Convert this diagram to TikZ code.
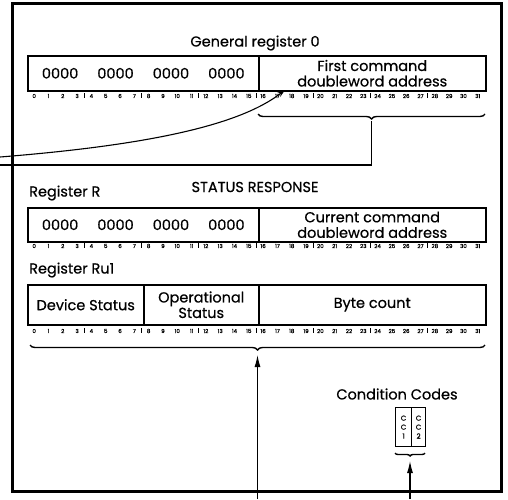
\documentclass[tikz,border=0pt]{standalone}
\usepackage{fontspec}
\setmainfont{Poppins}[FakeBold=0.6]
\usetikzlibrary{arrows.meta, positioning, decorations.pathreplacing, calc}
\tikzset{
  field/.style   = {draw, line width=1.5pt, anchor=north west, inner sep=0pt,
                    align=center, font=\fontsize{14.5}{15.5}\selectfont},
  title/.style   = {inner sep=0pt, font=\fontsize{14.5}{15.5}\selectfont},
  bitnum/.style  = {inner sep=0pt, font=\fontsize{5.5}{5.5}\selectfont},
  ccbit/.style   = {draw, line width=1.2pt, anchor=north west, inner sep=0pt,
                    align=center, minimum height=39pt, font=\fontsize{7}{9}\selectfont},
  brace/.style   = {decorate, decoration={brace, amplitude=5pt}, line width=1.4pt},
  arrow/.style   = {-{Latex[length=12pt, width=6pt]}, line width=1.1pt},
  thin/.style    = {line width=1.1pt},
  frame/.style   = {line width=3pt},
}

\begin{document}
\begin{tikzpicture}[x=1pt, y=-1pt]
  \useasboundingbox (0,0) rectangle (508,499);
  \draw[frame] (12,3) rectangle (501,491);

  % general register 0
  \node[title] (g0title) at (255,43) {General register 0};
  \node[field, minimum width=231pt, minimum height=35pt] (g0hi) at (27,55)
    {0000\hspace{19pt}0000\hspace{19pt}0000\hspace{19pt}0000};
  \node[field, minimum width=227pt, minimum height=35pt] (g0lo) at (258,55)
    {First command\\doubleword address};

  % status response
  \node[title] (sttitle) at (255,187) {STATUS RESPONSE};
  \node[title, anchor=west] (rtitle) at (29,193) {Register R};
  \node[field, minimum width=231pt, minimum height=34pt] (rhi) at (27,207)
    {0000\hspace{19pt}0000\hspace{19pt}0000\hspace{19pt}0000};
  \node[field, minimum width=227pt, minimum height=34pt] (rlo) at (258,207)
    {Current command\\doubleword address};

  \node[title, anchor=west] (utitle) at (29,270) {Register Ru1};
  \node[field, minimum width=116pt, minimum height=40pt] (udev) at (27,284) {Device Status};
  \node[field, minimum width=115pt, minimum height=40pt] (uop) at (143,284) {Operational\\Status};
  \node[field, minimum width=227pt, minimum height=40pt] (ubyte) at (258,284) {Byte count};

  % bit positions
  \foreach \r/\y in {g/96, r/246, u/331} {
    \foreach \i in {0,...,31}
      \node[bitnum] (\r bit\i) at ({27+14.31*(\i+0.5)},\y) {\i};
    \foreach \k in {4,8,...,28}
      \draw[line width=0.6pt] ({27+14.31*\k},\y-3) -- ({27+14.31*\k},\y+2);
  }

  % address brace and its lead
  \coordinate (br0w) at (258,114);
  \coordinate (br0e) at (485,114);
  \coordinate (br0tip) at (371.5,121);
  \coordinate (lnin) at (0,165);
  \draw[brace] (br0e) -- (br0w);
  \draw[thin] (lnin) -| (br0tip);

  \coordinate (cvin) at (0,157);
  \coordinate (cvtip) at (285,90);
  \draw[-{Stealth[length=8pt, width=5pt]}, thin]
    (cvin) .. controls (150,145) and (240,125) .. (cvtip);

  % status brace
  \coordinate (bruw) at (30,345);
  \coordinate (brue) at (485,345);
  \coordinate (bigin) at (257.5,499);
  \coordinate (bigtip) at (257.5,355);
  \draw[brace] (brue) -- (bruw);
  \draw[arrow] (bigin) -- (bigtip);

  % condition codes
  \node[title] (cctitle) at (397,394) {Condition Codes};
  \node[ccbit, minimum width=16pt] (cc1) at (395,407) {C\\C\\1};
  \node[ccbit, minimum width=14pt] (cc2) at (411,407) {C\\C\\2};
  \coordinate (brcw) at (395,453);
  \coordinate (brce) at (425,453);
  \coordinate (ccin) at (410,499);
  \coordinate (cctip) at (410,461);
  \draw[brace, decoration={amplitude=3pt}] (brce) -- (brcw);
  \draw[arrow] (ccin) -- (cctip);
\end{tikzpicture}
\end{document}
